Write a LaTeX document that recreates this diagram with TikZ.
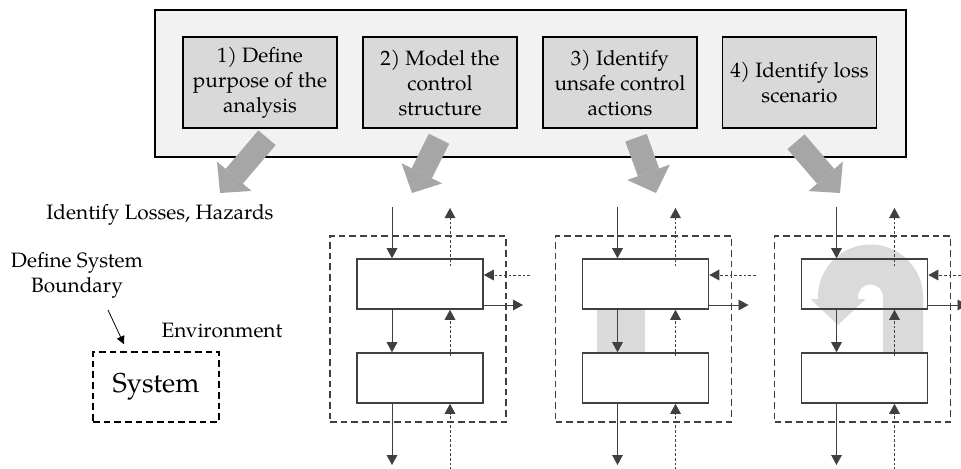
\documentclass[tikz,border=0pt]{standalone}
\usepackage{fontspec}
\setmainfont{TeX Gyre Pagella}
\usetikzlibrary{arrows.meta,calc}
\definecolor{stepgray}{HTML}{D9D9D9}
\definecolor{backgray}{HTML}{F2F2F2}
\definecolor{fatgray}{HTML}{A6A6A6}
\definecolor{loopgray}{HTML}{DADADA}
\definecolor{linegray}{HTML}{404040}
\tikzset{
  stepbox/.style={draw=black,line width=1.1pt,fill=stepgray,minimum width=115.5pt,
    minimum height=68.25pt,align=center,inner sep=0pt},
  blockbox/.style={draw=linegray,line width=1.2pt,minimum width=94.5pt,minimum height=37.5pt},
  bound/.style={draw=linegray,line width=1.2pt,dash pattern=on 5pt off 3pt,
    minimum width=132pt,minimum height=139.5pt},
  fat/.style={draw=fatgray,line width=17pt,-{Triangle[length=16.5pt,width=34pt,line width=0pt]}},
  flow/.style={draw=linegray,line width=0.6pt,-{Triangle[length=7.5pt,width=8pt]}},
  fb/.style={flow,dash pattern=on 2pt off 1.5pt},
  pointer/.style={draw=black,line width=0.6pt,-{Triangle[length=6pt,width=6pt]}}
}
\begin{document}
\begin{tikzpicture}[x=0.75pt,y=-0.75pt,font=\fontsize{15.6}{18.75}\selectfont]
  \useasboundingbox (0,0) rectangle (961,468);
  % the four steps
  \node[draw=black,line width=1.3pt,fill=backgray,minimum width=563.25pt,minimum height=110.25pt] (o) at (530.5,83.5) {};
  \begin{scope}[every node/.style={stepbox}]
  \node (a) at (260,82.5) {1) Define\\purpose of the\\analysis};
  \node (b) at (440,82.5) {2) Model the\\control\\structure};
  \node (c) at (620,82.5) {3) Identify\\unsafe control\\actions};
  \node (d) at (799.5,82.5) {4) Identify loss\\scenario};
  \end{scope}
  \coordinate (t1) at (220,193);
  \coordinate (t2) at (412,193);
  \coordinate (t3) at (656,193);
  \coordinate (t4) at (840,193);
  \draw[fat] ($(a.south)+(7,9)$) -- (t1);
  \draw[fat] ($(b.south)+(-1,10)$) -- (t2);
  \draw[fat] ($(c.south)+(16,9)$) -- (t3);
  \draw[fat] ($(d.south)+(-3.5,13)$) -- (t4);
  % step 1
  \node (h) at (160,215) {Identify Losses, Hazards};
  \node[align=center] (bd) at (77,275) {Define System\\Boundary};
  \node (env) at (222,331) {Environment};
  \node[draw=black,line width=1.2pt,dash pattern=on 5pt off 3pt,minimum width=94.5pt,
    minimum height=52.5pt,font=\fontsize{20.5}{24}\selectfont] (sys) at (156,387) {System};
  \coordinate (bp) at (108,310);
  \draw[pointer] (bp) -- ($(sys.north)+(-32,-7)$);
  % unsafe action and loss scenario
  \fill[loopgray] (597,309) rectangle (645,353);
  \draw[loopgray,line width=30pt,-{Triangle[length=19.5pt,width=41.25pt,line width=0pt]}]
    (903,353) -- (903,297) arc[start angle=0,end angle=-180,radius=32.5] -- (838,325);
  % control structures
  \foreach \n/\x in {1/420,2/645.5,3/864.5}{
    \node[bound] (f\n) at (\x-2,329) {};
    \node[blockbox] (u\n) at (\x,284) {};
    \node[blockbox] (l\n) at (\x,378) {};
    \coordinate (in\n) at (\x-28,207);
    \coordinate (out\n) at (\x-28,465);
    \coordinate (up\n) at (\x+30,208);
    \coordinate (src\n) at (\x+30,470);
    \coordinate (ext\n) at (\x+110,275);
    \coordinate (act\n) at (\x+103,305);
    \draw[flow] (in\n) -- (in\n |- u\n.north);
    \draw[flow] (in\n |- u\n.south) -- (in\n |- l\n.north);
    \draw[flow] (in\n |- l\n.south) -- (out\n);
    \draw[fb] ($(up\n |- u\n.north)+(0,8)$) -- (up\n);
    \draw[fb] ($(up\n |- l\n.north)+(0,4)$) -- (up\n |- u\n.south);
    \draw[fb] (src\n) -- (up\n |- l\n.south);
    \draw[fb] (ext\n) -- (ext\n -| u\n.east);
    \draw[flow] (act\n -| u\n.east) -- (act\n);
  }
\end{tikzpicture}
\end{document}
